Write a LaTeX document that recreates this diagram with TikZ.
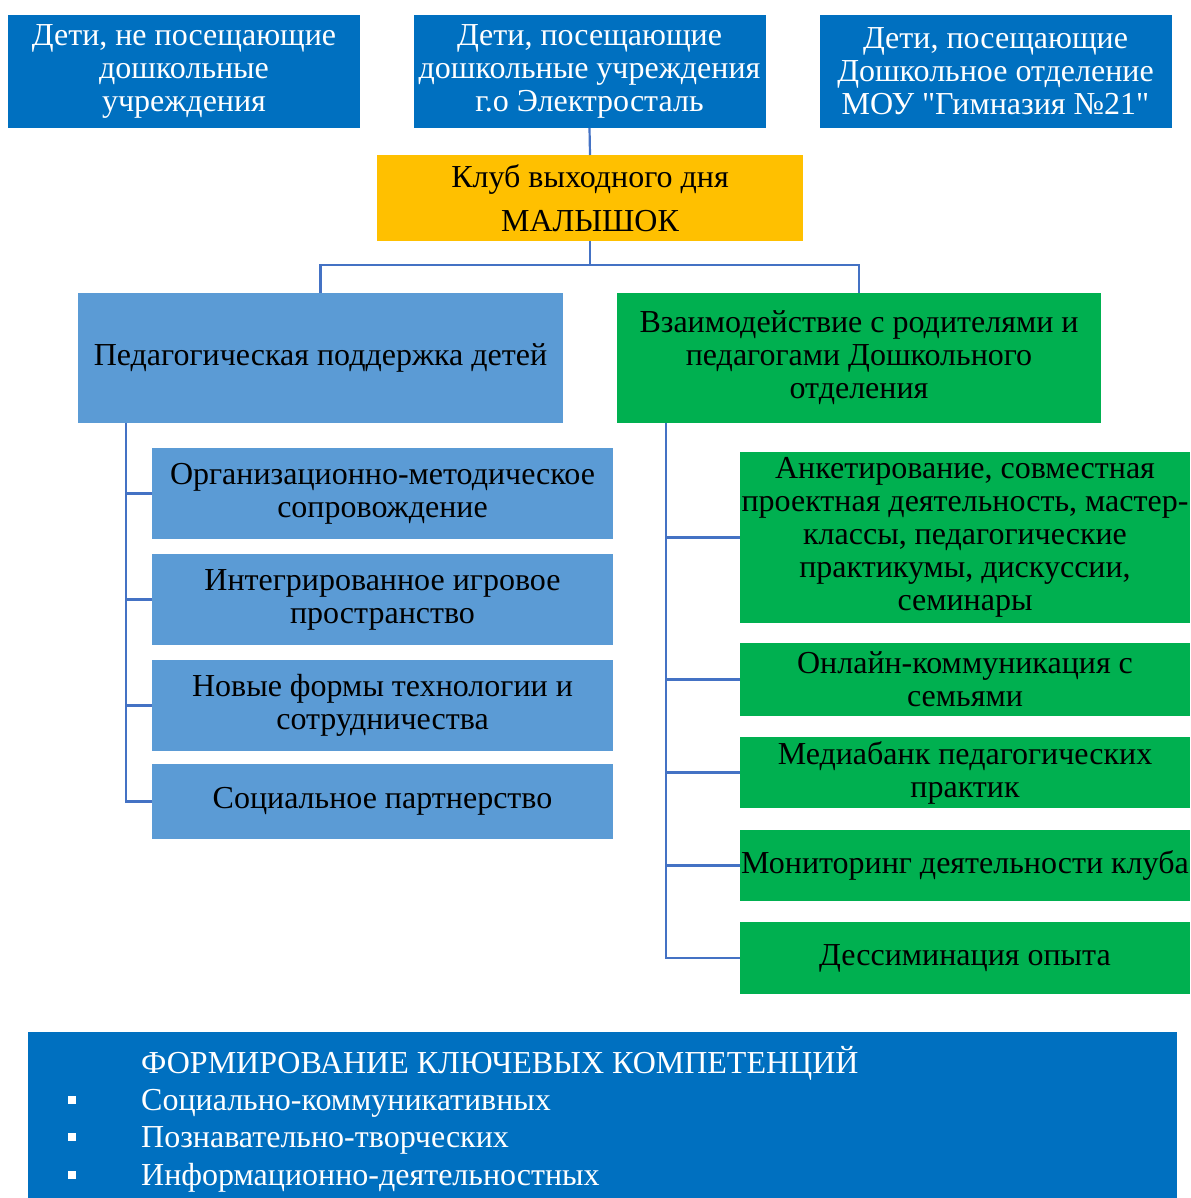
\documentclass[tikz,border=0pt]{standalone}
\usepackage{fontspec}
\setmainfont{Liberation Serif}
\font\qf="Liberation Serif" at 32pt
\definecolor{dblue}{HTML}{0070C0}
\definecolor{lblue}{HTML}{5B9BD5}
\definecolor{gold}{HTML}{FFC000}
\definecolor{grn}{HTML}{00B050}
\definecolor{conncol}{HTML}{4472C4}
\newcommand{\dq}{{\qf\char"0022}}
\begin{document}
\begin{tikzpicture}[x=1pt,y=-1pt,
  box/.style={rectangle,inner sep=0pt,outer sep=0pt,align=center,font=\fontsize{32}{33}\selectfont},
  topbox/.style={box,fill=dblue,text=white,minimum width=352pt,minimum height=113pt},
  lbox/.style={box,fill=lblue,text=black},
  gbox/.style={box,fill=grn,text=black},
  conn/.style={draw=conncol,line width=2.2pt}]
\useasboundingbox (0,0) rectangle (1190,1198);
% top row
\node[topbox] (a) at (184,71.5) {Дети, не посещающие\\дошкольные\\учреждения};
\node[topbox] (b) at (589.5,71.5) {Дети, посещающие\\дошкольные учреждения\\г.о Электросталь};
\node[topbox] (c) at (995.5,71.5) {Дети, посещающие\\Дошкольное отделение\\МОУ \dq Гимназия №21\dq};
% club
\node[box,fill=gold,text=black,minimum width=426pt,minimum height=86pt] (klub) at (590,198)
  {Клуб выходного дня\\[11pt]МАЛЫШОК};
% second level
\node[lbox,minimum width=485pt,minimum height=130pt] (ped) at (320.5,358) {Педагогическая поддержка детей};
\node[gbox,minimum width=484pt,minimum height=130pt] (vz) at (859,358) {Взаимодействие с родителями и\\педагогами Дошкольного\\отделения};
% left children
\node[lbox,minimum width=461pt,minimum height=91pt] (l1) at (382.5,493.5) {Организационно-методическое\\сопровождение};
\node[lbox,minimum width=461pt,minimum height=91pt] (l2) at (382.5,599.5) {Интегрированное игровое\\пространство};
\node[lbox,minimum width=461pt,minimum height=91pt] (l3) at (382.5,705.5) {Новые формы технологии и\\сотрудничества};
\node[lbox,minimum width=461pt,minimum height=75pt] (l4) at (382.5,801.5) {Социальное партнерство};
% right children
\node[gbox,minimum width=450pt,minimum height=171pt] (r1) at (965,537.5) {Анкетирование, совместная\\проектная деятельность, мастер-\\классы, педагогические\\практикумы, дискуссии,\\семинары};
\node[gbox,minimum width=450pt,minimum height=73pt] (r2) at (965,679.5) {Онлайн-коммуникация с\\семьями};
\node[gbox,minimum width=450pt,minimum height=71pt] (r3) at (965,772.5) {Медиабанк педагогических\\практик};
\node[gbox,minimum width=450pt,minimum height=71pt] (r4) at (965,865.5) {Мониторинг деятельности клуба};
\node[gbox,minimum width=450pt,minimum height=72pt] (r5) at (965,958) {Дессиминация опыта};
% connectors
\draw[conn] (b.south) -- (klub.north);
\coordinate (split) at (590,265);
\draw[conn] (klub.south) -- (split);
\draw[conn] (ped.north) |- (split) -| (vz.north);
\coordinate (lt) at (126,423);
\coordinate (rt) at (666,423);
\draw[conn] (lt) |- (l4.west);
\foreach \n in {l1,l2,l3} \draw[conn] (lt) |- (\n.west);
\draw[conn] (rt) |- (r5.west);
\foreach \n in {r1,r2,r3,r4} \draw[conn] (rt) |- (\n.west);
% bottom box
\node[rectangle,fill=dblue,inner sep=0pt,minimum width=1149pt,minimum height=170pt,anchor=north west] (bot) at (28,1032) {};
\begin{scope}[every node/.style={text=white,font=\fontsize{32}{33}\selectfont,inner sep=0pt,anchor=base west}]
\node (t0) at (141,1073) {ФОРМИРОВАНИЕ КЛЮЧЕВЫХ КОМПЕТЕНЦИЙ};
\node (t1) at (141,1110) {Социально-коммуникативных};
\node (t2) at (141,1147) {Познавательно-творческих};
\node (t3) at (141,1185) {Информационно-деятельностных};
\end{scope}
\foreach \y [count=\i] in {1100,1137,1175} \fill[white] (68,\y-4) rectangle (76,\y+4);
\end{tikzpicture}
\end{document}
